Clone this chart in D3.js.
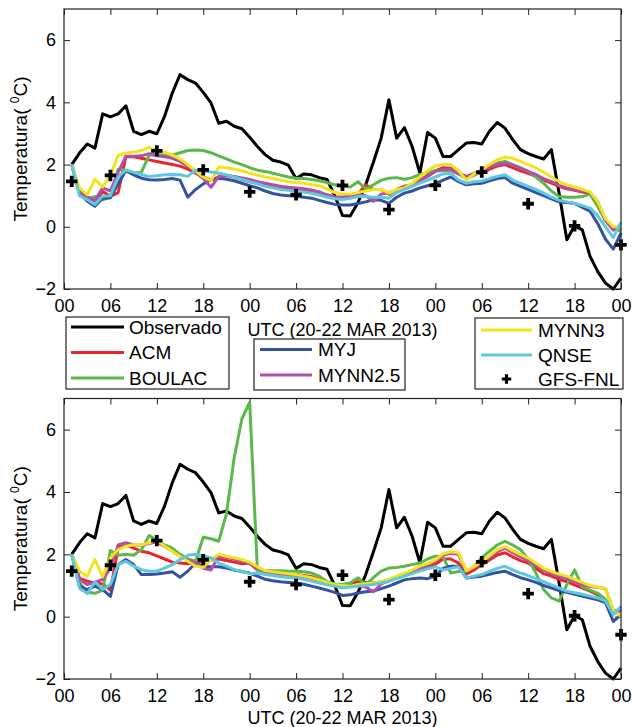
<!DOCTYPE html>
<html><head><meta charset="utf-8">
<script src="https://cdn.jsdelivr.net/npm/d3@7"></script>
<style>
body{margin:0;background:#fff;}
svg text{font-family:"Liberation Sans",Arial,Helvetica,sans-serif;fill:#000;}
</style></head><body>
<svg id="chart" width="633" height="727"></svg>
<script>
// Hours after 20 MAR 2013 00 UTC
const hours = [1,2,3,4,5,6,7,8,9,10,11,12,13,14,15,16,17,18,19,20,21,22,23,24,
  25,26,27,28,29,30,31,32,33,34,35,36,37,38,39,40,41,42,43,44,45,46,47,48,
  49,50,51,52,53,54,55,56,57,58,59,60,61,62,63,64,65,66,67,68,69,70,71,72];
const tickHours = [0,6,12,18,24,30,36,42,48,54,60,66,72];
const tickLabels = ["00","06","12","18","00","06","12","18","00","06","12","18","00"];
const yTicks = [-2,0,2,4,6];

// Observed station temperature (same in both panels)
const observed = [2.0,2.37,2.66,2.53,3.63,3.53,3.63,3.89,3.07,2.96,
  3.07,2.99,3.55,4.30,4.89,4.73,4.62,4.32,3.98,3.33,
  3.39,3.23,3.15,2.88,2.58,2.32,2.14,2.08,1.98,1.55,
  1.70,1.67,1.58,1.52,1.0,0.36,0.35,0.78,1.35,2.08,
  2.85,4.08,2.85,3.19,2.58,1.73,3.03,2.85,2.26,2.26,
  2.48,2.69,2.71,2.66,3.07,3.35,3.17,2.80,2.48,2.35,
  2.26,2.18,2.48,1.08,-0.42,0.03,-0.10,-0.95,-1.44,-1.81,
  -2.0,-1.65];

// GFS-FNL analysis every 6 h
const gfsHours = [1,6,12,18,24,30,36,42,48,54,60,66,72];
const gfsFnl = [1.46,1.65,2.44,1.83,1.12,1.03,1.33,0.55,1.33,1.76,0.74,0.03,-0.58];

// Upper panel: WRF PBL schemes
const acmTop = [2.0,1.1,0.95,0.8,1.13,0.98,1.1,2.25,2.25,2.2,
  2.15,2.1,2.05,2.0,1.95,1.85,1.72,1.6,1.5,1.6,
  1.65,1.6,1.52,1.45,1.4,1.35,1.3,1.26,1.22,1.2,
  1.18,1.15,1.1,1.02,0.96,0.95,1.0,1.05,1.35,1.2,
  1.2,1.05,1.2,1.3,1.35,1.5,1.65,1.8,1.9,1.88,
  1.72,1.62,1.7,1.72,1.85,1.95,2.0,1.9,1.8,1.72,
  1.62,1.5,1.4,1.3,1.22,1.17,1.12,1.07,0.75,0.2,
  -0.1,-0.05];
const boulacTop = [2.0,1.15,0.92,0.97,0.87,0.95,1.85,1.82,1.72,1.75,
  2.3,2.32,2.3,2.3,2.38,2.45,2.47,2.45,2.38,2.28,
  2.18,2.08,2.0,1.9,1.82,1.78,1.72,1.66,1.6,1.56,
  1.55,1.52,1.48,1.42,1.35,1.3,1.28,1.45,1.22,1.35,
  1.5,1.56,1.58,1.53,1.58,1.68,1.74,1.8,1.8,1.8,
  1.7,1.55,1.65,1.8,1.95,2.05,2.1,2.0,1.9,1.78,
  1.6,1.4,1.15,0.97,0.95,0.95,0.97,1.05,0.65,0.2,
  -0.05,-0.15];
const myjTop = [2.0,1.08,0.82,0.66,0.92,0.93,1.38,1.8,1.67,1.56,
  1.51,1.5,1.52,1.55,1.5,0.95,1.2,1.38,1.52,1.56,
  1.53,1.48,1.4,1.32,1.25,1.15,1.07,1.02,1.0,0.98,
  0.95,0.92,0.85,0.78,0.72,0.7,0.7,0.75,0.8,0.87,
  0.85,0.75,0.95,1.08,1.15,1.25,1.32,1.38,1.5,1.6,
  1.45,1.35,1.38,1.4,1.48,1.55,1.58,1.4,1.3,1.2,
  1.1,1.0,0.9,0.8,0.78,0.75,0.62,0.5,0.1,-0.4,
  -0.72,-0.2];
const mynn25Top = [2.0,1.15,0.95,0.85,1.25,1.15,1.75,2.27,2.27,2.28,
  2.35,2.28,2.25,2.2,2.1,1.95,1.75,1.55,1.27,1.62,
  1.65,1.62,1.57,1.52,1.45,1.4,1.35,1.3,1.27,1.25,
  1.22,1.18,1.12,1.02,0.96,0.95,0.98,1.02,1.0,0.82,
  1.05,1.1,1.15,1.28,1.35,1.48,1.62,1.78,1.85,1.85,
  1.7,1.6,1.72,1.8,1.92,2.0,2.05,1.98,1.88,1.78,
  1.68,1.55,1.45,1.33,1.25,1.2,1.15,1.1,0.8,0.2,
  -0.1,0.0];
const mynn3Top = [2.0,1.25,1.03,1.53,1.28,1.65,2.3,2.37,2.4,2.45,
  2.55,2.45,2.4,2.3,2.18,2.0,1.8,1.6,1.48,1.92,
  1.9,1.86,1.8,1.72,1.66,1.6,1.55,1.5,1.45,1.42,
  1.4,1.36,1.32,1.22,1.1,1.05,1.05,1.1,1.15,1.2,
  1.2,1.08,1.2,1.25,1.4,1.6,1.8,1.95,2.0,2.0,
  1.8,1.5,1.7,1.83,2.0,2.15,2.24,2.2,2.1,2.0,
  1.9,1.75,1.6,1.45,1.35,1.28,1.2,1.12,0.8,0.25,
  0.0,0.0];
const qnseTop = [2.0,1.0,0.87,0.72,0.98,1.0,1.6,1.82,1.75,1.68,
  1.62,1.64,1.67,1.68,1.67,1.62,1.82,1.8,1.76,1.72,
  1.67,1.6,1.52,1.45,1.38,1.3,1.25,1.2,1.17,1.15,
  1.12,1.08,1.02,0.95,0.9,0.88,0.92,0.97,0.97,0.95,
  0.95,0.92,1.1,1.2,1.3,1.4,1.5,1.6,1.7,1.72,
  1.5,1.4,1.45,1.47,1.55,1.62,1.67,1.5,1.4,1.3,
  1.2,1.08,0.95,0.85,0.8,0.75,0.68,0.6,0.35,0.0,
  -0.35,0.15];

// Lower panel: WRF PBL schemes, second configuration
const acmBottom = [2.0,1.24,1.14,1.08,1.05,0.85,2.2,2.3,2.2,2.1,
  2.05,1.95,1.85,1.75,1.72,1.7,1.72,1.8,1.82,1.85,
  1.8,1.75,1.7,1.72,1.5,1.45,1.42,1.4,1.37,1.35,
  1.32,1.28,1.2,1.1,1.03,1.0,1.05,1.12,1.1,1.08,
  1.12,1.15,1.25,1.35,1.42,1.5,1.58,1.68,1.85,1.85,
  1.72,1.36,1.5,1.67,1.82,1.98,2.05,1.92,1.8,1.72,
  1.55,1.38,1.3,1.2,1.12,1.02,0.92,0.82,0.7,0.5,
  0.1,0.22];
const boulacBottom = [2.0,1.1,0.78,0.75,0.85,2.12,1.97,2.0,1.97,2.15,
  2.6,2.45,2.3,2.2,2.0,1.85,1.78,2.55,2.5,2.42,
  3.3,5.1,6.35,6.88,1.47,1.48,1.47,1.47,1.46,1.46,
  1.44,1.4,1.3,1.12,1.05,1.03,1.08,1.25,1.03,1.25,
  1.46,1.56,1.58,1.62,1.67,1.72,1.85,1.94,1.92,1.4,
  1.45,1.45,1.6,1.89,2.1,2.3,2.42,2.3,2.15,1.85,
  1.4,0.87,0.6,0.5,1.03,1.5,0.95,0.85,0.75,0.55,
  0.12,0.28];
const myjBottom = [2.0,0.98,0.87,0.98,0.87,0.65,1.67,1.83,1.67,1.35,
  1.35,1.37,1.4,1.44,1.26,1.46,1.72,1.62,1.6,1.6,
  1.56,1.5,1.45,1.4,1.3,1.2,1.15,1.12,1.1,1.08,
  1.04,0.98,0.92,0.85,0.78,0.68,0.7,0.76,0.8,0.82,
  0.9,0.98,1.08,1.18,1.22,1.24,1.22,1.3,1.55,1.62,
  1.62,1.24,1.27,1.3,1.36,1.42,1.46,1.35,1.25,1.18,
  1.1,1.0,0.92,0.84,0.78,0.72,0.66,0.6,0.54,0.45,
  -0.15,0.06];
const mynn25Bottom = [2.0,1.19,1.03,1.1,1.2,1.55,2.3,2.37,2.3,2.3,
  2.35,2.4,2.25,2.1,1.95,1.82,1.72,1.55,1.5,1.95,
  1.9,1.85,1.78,1.7,1.55,1.45,1.4,1.37,1.33,1.3,
  1.27,1.22,1.15,1.07,1.0,0.97,0.97,1.0,0.95,0.8,
  1.05,1.15,1.25,1.35,1.45,1.55,1.65,1.78,1.98,2.03,
  2.0,1.46,1.58,1.72,1.9,2.08,2.2,2.05,1.92,1.8,
  1.65,1.5,1.38,1.3,1.22,1.12,1.03,0.97,0.94,0.9,
  0.2,0.17];
const mynn3Bottom = [2.0,1.46,1.3,1.83,1.28,1.89,2.15,2.26,2.31,2.31,
  2.37,2.47,2.26,2.1,1.94,1.78,1.62,1.58,1.83,2.0,
  1.94,1.89,1.83,1.75,1.6,1.48,1.44,1.41,1.38,1.35,
  1.3,1.25,1.18,1.1,1.03,1.0,0.98,1.03,1.06,1.08,
  1.13,1.2,1.3,1.4,1.5,1.62,1.7,1.82,2.02,2.08,
  2.05,1.48,1.6,1.78,1.95,2.15,2.25,2.12,2.0,1.88,
  1.72,1.55,1.45,1.37,1.3,1.2,1.1,1.0,0.95,0.9,
  0.2,0.0];
const qnseBottom = [2.0,0.92,0.74,1.12,0.87,1.03,1.67,1.78,1.62,1.51,
  1.46,1.46,1.56,1.67,1.83,1.97,2.0,1.94,1.89,1.72,
  1.62,1.51,1.46,1.38,1.4,1.35,1.32,1.28,1.26,1.24,
  1.2,1.14,1.08,1.02,0.98,0.92,0.95,0.98,1.0,1.03,
  1.08,1.14,1.22,1.3,1.38,1.46,1.54,1.6,1.5,1.55,
  1.6,1.24,1.3,1.35,1.45,1.55,1.62,1.5,1.4,1.32,
  1.22,1.12,1.02,0.92,0.82,0.77,0.72,0.66,0.6,0.5,
  0.06,0.33];

const schemeNames = ["ACM","BOULAC","MYJ","MYNN2.5","MYNN3","QNSE"];
const schemeColors = ["#e8262a","#5cb84a","#3352a3","#b24fa9","#f2e41c","#5fc8de"];

const svg = d3.select("#chart");
const left = 64, right = 621;
const x = d3.scaleLinear().domain([0, 72]).range([left, right]);

const panels = [
  {top: 9, bottom: 289, runs: [acmTop, boulacTop, myjTop, mynn25Top, mynn3Top, qnseTop], utcY: 336},
  {top: 398.5, bottom: 679, runs: [acmBottom, boulacBottom, myjBottom, mynn25Bottom, mynn3Bottom, qnseBottom], utcY: 724}
];

const crossPath = d3.symbol().type(d3.symbolCross).size(72)();

panels.forEach(p => {
  const y = d3.scaleLinear().domain([-2, 7]).range([p.bottom, p.top]);
  const g = svg.append("g");
  const line = d3.line().x(d => x(d[0])).y(d => y(d[1]));

  // axes with inward ticks
  const ax = [
    g.append("g").attr("transform", `translate(0,${p.bottom})`)
      .call(d3.axisBottom(x).tickValues(tickHours).tickFormat((d, i) => tickLabels[i]).tickSizeInner(-6).tickSizeOuter(0).tickPadding(10)),
    g.append("g").attr("transform", `translate(0,${p.top})`)
      .call(d3.axisTop(x).tickValues(tickHours).tickFormat("").tickSizeInner(-6).tickSizeOuter(0)),
    g.append("g").attr("transform", `translate(${left},0)`)
      .call(d3.axisLeft(y).tickValues(yTicks).tickFormat(d3.format("d")).tickSizeInner(-6).tickSizeOuter(0).tickPadding(8)),
    g.append("g").attr("transform", `translate(${right},0)`)
      .call(d3.axisRight(y).tickValues(yTicks).tickFormat("").tickSizeInner(-6).tickSizeOuter(0))
  ];
  ax.forEach(a => {
    a.selectAll("path.domain").remove();
    a.selectAll("line").attr("stroke", "#222").attr("stroke-width", 1);
    a.selectAll("text").attr("font-size", 18).attr("font-family", "Liberation Sans, Arial, sans-serif").attr("fill", "#000");
  });

  // observed
  g.append("path").datum(hours.map((h, i) => [h, observed[i]]))
    .attr("d", line).attr("fill", "none").attr("stroke", "#000")
    .attr("stroke-width", 3).attr("stroke-linejoin", "round");

  // model runs
  p.runs.forEach((vals, k) => {
    g.append("path").datum(hours.map((h, i) => [h, vals[i]]))
      .attr("d", line).attr("fill", "none").attr("stroke", schemeColors[k])
      .attr("stroke-width", 3).attr("stroke-linejoin", "round");
  });

  // GFS-FNL markers
  g.selectAll("path.gfs").data(gfsHours.map((h, i) => [h, gfsFnl[i]])).join("path")
    .attr("class", "gfs").attr("d", crossPath)
    .attr("transform", d => `translate(${x(d[0])},${y(d[1])})`).attr("fill", "#000");

  // frame
  g.append("rect").attr("x", left).attr("y", p.top)
    .attr("width", right - left).attr("height", p.bottom - p.top)
    .attr("fill", "none").attr("stroke", "#222").attr("stroke-width", 1.2);

  // y label
  const yl = g.append("text").attr("transform", `translate(27,${(p.top + p.bottom) / 2}) rotate(-90)`)
    .attr("text-anchor", "middle").attr("font-size", 19);
  yl.append("tspan").text("Temperatura( ");
  yl.append("tspan").attr("font-size", 12).attr("dy", -8).text("0");
  yl.append("tspan").attr("dy", 8).text("C)");

  // x label
  g.append("text").attr("x", (left + right) / 2).attr("y", p.utcY)
    .attr("text-anchor", "middle").attr("font-size", 18).text("UTC (20-22 MAR 2013)");
});

// Legend boxes
const legendBoxes = [
  {x: 66, y: 317, w: 163, h: 72, lx: 71, lw: 53, tx: 129,
   items: [{name: "Observado", color: "#000", cy: 327}, {name: schemeNames[0], color: schemeColors[0], cy: 352.5}, {name: schemeNames[1], color: schemeColors[1], cy: 378}]},
  {x: 254, y: 339, w: 151, h: 51, lx: 260, lw: 52, tx: 318,
   items: [{name: schemeNames[2], color: schemeColors[2], cy: 349.5}, {name: schemeNames[3], color: schemeColors[3], cy: 375}]},
  {x: 475, y: 318, w: 148, h: 71, lx: 481, lw: 51, tx: 538,
   items: [{name: schemeNames[4], color: schemeColors[4], cy: 330}, {name: schemeNames[5], color: schemeColors[5], cy: 355}, {name: "GFS-FNL", marker: true, cy: 379}]}
];
legendBoxes.forEach(b => {
  const lg = svg.append("g");
  lg.append("rect").attr("x", b.x).attr("y", b.y).attr("width", b.w).attr("height", b.h)
    .attr("fill", "#fff").attr("stroke", "#222").attr("stroke-width", 1.2);
  b.items.forEach(it => {
    if (it.marker) {
      lg.append("path").attr("d", d3.symbol().type(d3.symbolCross).size(50)())
        .attr("transform", `translate(${b.lx + b.lw / 2},${it.cy})`).attr("fill", "#000");
    } else {
      lg.append("line").attr("x1", b.lx).attr("x2", b.lx + b.lw).attr("y1", it.cy).attr("y2", it.cy)
        .attr("stroke", it.color).attr("stroke-width", 3);
    }
    lg.append("text").attr("x", b.tx).attr("y", it.cy).attr("dy", "0.36em")
      .attr("font-size", 19).text(it.name);
  });
});
</script>
</body></html>
